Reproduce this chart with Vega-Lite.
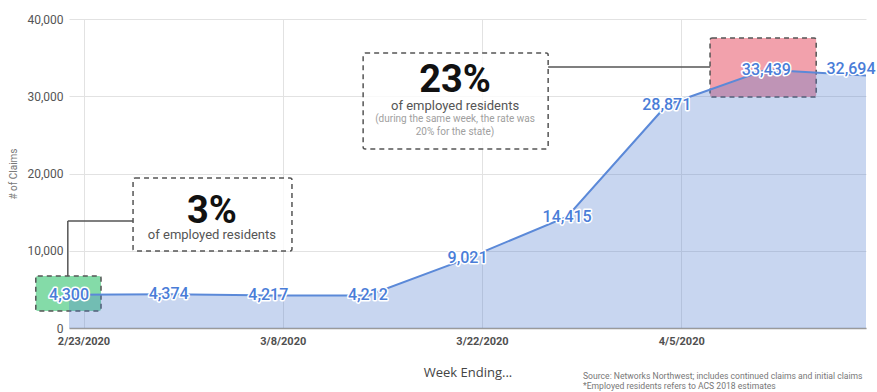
{
  "$schema": "https://vega.github.io/schema/vega-lite/v6.json",
  "width": 797,
  "height": 309,
  "autosize": {"type": "none"},
  "padding": {"left": 69, "top": 19, "right": 11, "bottom": 64},
  "background": "white",
  "title": {
    "text": ["Source: Networks Northwest; includes continued claims and initial claims", "*Employed residents refers to ACS 2018 estimates"],
    "orient": "bottom",
    "anchor": "end",
    "align": "left",
    "dx": -283,
    "frame": "group",
    "fontSize": 8.6,
    "fontWeight": "normal",
    "font": "Roboto",
    "color": "#777777",
    "lineHeight": 10,
    "offset": -7
  },
  "config": {
    "view": {"stroke": null},
    "axisX": {
      "tickOffset": 14.5,
      "ticks": false,
      "grid": true,
      "gridColor": "#e2e2e2",
      "domainColor": "#9a9a9a",
      "domainWidth": 1.5,
      "labelFont": "Roboto",
      "labelFontSize": 11,
      "labelFontWeight": "bold",
      "labelColor": "#505050",
      "labelPadding": 7,
      "labelFlush": false,
      "labelOverlap": false,
      "titleFont": "Open Sans",
      "titleFontSize": 13,
      "titleFontWeight": "normal",
      "titleColor": "#444444",
      "titlePadding": 20
    },
    "axisY": {
      "ticks": false,
      "domain": false,
      "grid": true,
      "gridColor": "#e2e2e2",
      "labelFont": "Roboto",
      "labelFontSize": 12,
      "labelColor": "#555555",
      "labelPadding": 6,
      "titleFont": "Roboto",
      "titleFontSize": 10,
      "titleFontWeight": "normal",
      "titleColor": "#777777",
      "titlePadding": 8
    }
  },
  "datasets": {
    "claims": [
      {"week": "2020-02-23T00:00:00", "claims": 4300},
      {"week": "2020-03-01T00:00:00", "claims": 4374},
      {"week": "2020-03-08T00:00:00", "claims": 4217},
      {"week": "2020-03-15T00:00:00", "claims": 4212},
      {"week": "2020-03-22T00:00:00", "claims": 9021},
      {"week": "2020-03-29T00:00:00", "claims": 14415},
      {"week": "2020-04-05T00:00:00", "claims": 28871},
      {"week": "2020-04-12T00:00:00", "claims": 33439},
      {"week": "2020-04-19T00:00:00", "claims": 32694}
    ],
    "boxes": [
      {"x": "2020-02-20T16:00:00", "x2": "2020-02-25T06:00:00", "y": 2200, "y2": 6730, "kind": "low"},
      {"x": "2020-04-08T01:00:00", "x2": "2020-04-15T12:00:00", "y": 29900, "y2": 37540, "kind": "high"},
      {"x": "2020-02-27T12:00:00", "x2": "2020-03-09T16:00:00", "y": 9970, "y2": 19420, "kind": "note"},
      {"x": "2020-03-14T16:00:00", "x2": "2020-03-27T16:00:00", "y": 23170, "y2": 35600, "kind": "note"}
    ],
    "connectors": [
      {"x": "2020-02-22T22:00:00", "x2": "2020-02-22T22:00:00", "y": 6730, "y2": 13850},
      {"x": "2020-02-22T22:00:00", "x2": "2020-02-27T12:00:00", "y": 13850, "y2": 13850},
      {"x": "2020-03-27T16:00:00", "x2": "2020-04-08T01:00:00", "y": 33790, "y2": 33790}
    ],
    "notes": [
      {"x": "2020-03-04T01:00:00", "y": 15020, "text": "3%", "role": "big"},
      {"x": "2020-03-04T01:00:00", "y": 12040, "text": "of employed residents", "role": "sub"},
      {"x": "2020-03-21T03:00:00", "y": 31970, "text": "23%", "role": "big"},
      {"x": "2020-03-21T03:00:00", "y": 28740, "text": "of employed residents", "role": "sub"},
      {"x": "2020-03-21T03:00:00", "y": 27060, "text": "(during the same week, the rate was", "role": "small"},
      {"x": "2020-03-21T03:00:00", "y": 25370, "text": "20% for the state)", "role": "small"}
    ]
  },
  "layer": [
    {
      "data": {"name": "boxes"},
      "transform": [{"filter": "datum.kind == 'note'"}],
      "mark": {"type": "rect", "fill": "white", "fillOpacity": 0.8, "stroke": "#555555", "strokeDash": [5, 4], "strokeWidth": 1.5, "cornerRadius": 2},
      "encoding": {
        "x": {"field": "x", "type": "temporal", "title": "Week Ending...", "scale": {"domain": [{"year": 2020, "month": 2, "date": 23}, {"year": 2020, "month": 4, "date": 19}]}, "axis": {"values": [{"year": 2020, "month": 2, "date": 23}, {"year": 2020, "month": 3, "date": 8}, {"year": 2020, "month": 3, "date": 22}, {"year": 2020, "month": 4, "date": 5}], "format": "%-m/%-d/%Y"}},
        "x2": {"field": "x2"},
        "y": {"field": "y", "type": "quantitative", "title": "# of Claims", "scale": {"domain": [0, 40000]}, "axis": {"values": [0, 10000, 20000, 30000, 40000], "format": ",.0f"}},
        "y2": {"field": "y2"}
      }
    },
    {
      "data": {"name": "boxes"},
      "transform": [{"filter": "datum.kind != 'note'"}],
      "mark": {"type": "rect", "stroke": "#555555", "strokeDash": [5, 4], "strokeWidth": 1.5, "cornerRadius": 2},
      "encoding": {
        "x": {"field": "x", "type": "temporal", "title": "Week Ending...", "scale": {"domain": [{"year": 2020, "month": 2, "date": 23}, {"year": 2020, "month": 4, "date": 19}]}, "axis": {"values": [{"year": 2020, "month": 2, "date": 23}, {"year": 2020, "month": 3, "date": 8}, {"year": 2020, "month": 3, "date": 22}, {"year": 2020, "month": 4, "date": 5}], "format": "%-m/%-d/%Y"}},
        "x2": {"field": "x2"},
        "y": {"field": "y", "type": "quantitative", "title": "# of Claims", "scale": {"domain": [0, 40000]}, "axis": {"values": [0, 10000, 20000, 30000, 40000], "format": ",.0f"}},
        "y2": {"field": "y2"},
        "fill": {"field": "kind", "type": "nominal", "scale": {"domain": ["low", "high"], "range": ["#84dba8", "#f2a1ac"]}, "legend": null}
      }
    },
    {
      "data": {"name": "claims"},
      "mark": {"type": "area", "color": "#4a78cc", "fillOpacity": 0.3},
      "encoding": {
        "x": {"field": "week", "type": "temporal", "title": "Week Ending...", "scale": {"domain": [{"year": 2020, "month": 2, "date": 23}, {"year": 2020, "month": 4, "date": 19}]}, "axis": {"values": [{"year": 2020, "month": 2, "date": 23}, {"year": 2020, "month": 3, "date": 8}, {"year": 2020, "month": 3, "date": 22}, {"year": 2020, "month": 4, "date": 5}], "format": "%-m/%-d/%Y"}},
        "y": {"field": "claims", "type": "quantitative", "title": "# of Claims", "scale": {"domain": [0, 40000]}, "axis": {"values": [0, 10000, 20000, 30000, 40000], "format": ",.0f"}}
      }
    },
    {
      "data": {"name": "claims"},
      "mark": {"type": "line", "color": "#5b89d8", "strokeWidth": 2},
      "encoding": {
        "x": {"field": "week", "type": "temporal", "title": "Week Ending...", "scale": {"domain": [{"year": 2020, "month": 2, "date": 23}, {"year": 2020, "month": 4, "date": 19}]}, "axis": {"values": [{"year": 2020, "month": 2, "date": 23}, {"year": 2020, "month": 3, "date": 8}, {"year": 2020, "month": 3, "date": 22}, {"year": 2020, "month": 4, "date": 5}], "format": "%-m/%-d/%Y"}},
        "y": {"field": "claims", "type": "quantitative", "title": "# of Claims", "scale": {"domain": [0, 40000]}, "axis": {"values": [0, 10000, 20000, 30000, 40000], "format": ",.0f"}}
      }
    },
    {
      "data": {"name": "connectors"},
      "mark": {"type": "rule", "color": "#555555", "strokeWidth": 1.5},
      "encoding": {
        "x": {"field": "x", "type": "temporal", "title": "Week Ending...", "scale": {"domain": [{"year": 2020, "month": 2, "date": 23}, {"year": 2020, "month": 4, "date": 19}]}, "axis": {"values": [{"year": 2020, "month": 2, "date": 23}, {"year": 2020, "month": 3, "date": 8}, {"year": 2020, "month": 3, "date": 22}, {"year": 2020, "month": 4, "date": 5}], "format": "%-m/%-d/%Y"}},
        "x2": {"field": "x2"},
        "y": {"field": "y", "type": "quantitative", "title": "# of Claims", "scale": {"domain": [0, 40000]}, "axis": {"values": [0, 10000, 20000, 30000, 40000], "format": ",.0f"}},
        "y2": {"field": "y2"}
      }
    },
    {
      "data": {"name": "notes"},
      "transform": [{"filter": "datum.role == 'big'"}],
      "mark": {"type": "text", "font": "Roboto", "fontSize": 38, "fontWeight": "bold", "color": "#111111", "baseline": "middle", "align": "center"},
      "encoding": {
        "x": {"field": "x", "type": "temporal", "title": "Week Ending...", "scale": {"domain": [{"year": 2020, "month": 2, "date": 23}, {"year": 2020, "month": 4, "date": 19}]}, "axis": {"values": [{"year": 2020, "month": 2, "date": 23}, {"year": 2020, "month": 3, "date": 8}, {"year": 2020, "month": 3, "date": 22}, {"year": 2020, "month": 4, "date": 5}], "format": "%-m/%-d/%Y"}},
        "y": {"field": "y", "type": "quantitative", "title": "# of Claims", "scale": {"domain": [0, 40000]}, "axis": {"values": [0, 10000, 20000, 30000, 40000], "format": ",.0f"}},
        "text": {"field": "text"}
      }
    },
    {
      "data": {"name": "notes"},
      "transform": [{"filter": "datum.role == 'sub'"}],
      "mark": {"type": "text", "font": "Roboto", "fontSize": 13, "color": "#555555", "baseline": "middle", "align": "center"},
      "encoding": {
        "x": {"field": "x", "type": "temporal", "title": "Week Ending...", "scale": {"domain": [{"year": 2020, "month": 2, "date": 23}, {"year": 2020, "month": 4, "date": 19}]}, "axis": {"values": [{"year": 2020, "month": 2, "date": 23}, {"year": 2020, "month": 3, "date": 8}, {"year": 2020, "month": 3, "date": 22}, {"year": 2020, "month": 4, "date": 5}], "format": "%-m/%-d/%Y"}},
        "y": {"field": "y", "type": "quantitative", "title": "# of Claims", "scale": {"domain": [0, 40000]}, "axis": {"values": [0, 10000, 20000, 30000, 40000], "format": ",.0f"}},
        "text": {"field": "text"}
      }
    },
    {
      "data": {"name": "notes"},
      "transform": [{"filter": "datum.role == 'small'"}],
      "mark": {"type": "text", "font": "Roboto", "fontSize": 10, "color": "#a0a0a0", "baseline": "middle", "align": "center"},
      "encoding": {
        "x": {"field": "x", "type": "temporal", "title": "Week Ending...", "scale": {"domain": [{"year": 2020, "month": 2, "date": 23}, {"year": 2020, "month": 4, "date": 19}]}, "axis": {"values": [{"year": 2020, "month": 2, "date": 23}, {"year": 2020, "month": 3, "date": 8}, {"year": 2020, "month": 3, "date": 22}, {"year": 2020, "month": 4, "date": 5}], "format": "%-m/%-d/%Y"}},
        "y": {"field": "y", "type": "quantitative", "title": "# of Claims", "scale": {"domain": [0, 40000]}, "axis": {"values": [0, 10000, 20000, 30000, 40000], "format": ",.0f"}},
        "text": {"field": "text"}
      }
    },
    {
      "data": {"name": "claims"},
      "transform": [{"filter": "datum.claims != 32694"}],
      "mark": {"type": "text", "font": "Roboto", "fontSize": 16, "fontWeight": 500, "fill": "white", "stroke": "white", "strokeWidth": 3, "strokeJoin": "round", "baseline": "middle", "align": "center"},
      "encoding": {
        "x": {"field": "week", "type": "temporal", "title": "Week Ending...", "scale": {"domain": [{"year": 2020, "month": 2, "date": 23}, {"year": 2020, "month": 4, "date": 19}]}, "axis": {"values": [{"year": 2020, "month": 2, "date": 23}, {"year": 2020, "month": 3, "date": 8}, {"year": 2020, "month": 3, "date": 22}, {"year": 2020, "month": 4, "date": 5}], "format": "%-m/%-d/%Y"}},
        "y": {"field": "claims", "type": "quantitative", "title": "# of Claims", "scale": {"domain": [0, 40000]}, "axis": {"values": [0, 10000, 20000, 30000, 40000], "format": ",.0f"}},
        "text": {"field": "claims", "type": "quantitative", "format": ","}
      }
    },
    {
      "data": {"name": "claims"},
      "transform": [{"filter": "datum.claims != 32694"}],
      "mark": {"type": "text", "font": "Roboto", "fontSize": 16, "fontWeight": 500, "color": "#4a7dd8", "baseline": "middle", "align": "center"},
      "encoding": {
        "x": {"field": "week", "type": "temporal", "title": "Week Ending...", "scale": {"domain": [{"year": 2020, "month": 2, "date": 23}, {"year": 2020, "month": 4, "date": 19}]}, "axis": {"values": [{"year": 2020, "month": 2, "date": 23}, {"year": 2020, "month": 3, "date": 8}, {"year": 2020, "month": 3, "date": 22}, {"year": 2020, "month": 4, "date": 5}], "format": "%-m/%-d/%Y"}},
        "y": {"field": "claims", "type": "quantitative", "title": "# of Claims", "scale": {"domain": [0, 40000]}, "axis": {"values": [0, 10000, 20000, 30000, 40000], "format": ",.0f"}},
        "text": {"field": "claims", "type": "quantitative", "format": ","}
      }
    },
    {
      "data": {"name": "claims"},
      "transform": [{"filter": "datum.claims == 32694"}],
      "mark": {"type": "text", "font": "Roboto", "fontSize": 16, "fontWeight": 500, "fill": "white", "stroke": "white", "strokeWidth": 3, "strokeJoin": "round", "baseline": "middle", "align": "center", "dx": -15, "dy": -6},
      "encoding": {
        "x": {"field": "week", "type": "temporal", "title": "Week Ending...", "scale": {"domain": [{"year": 2020, "month": 2, "date": 23}, {"year": 2020, "month": 4, "date": 19}]}, "axis": {"values": [{"year": 2020, "month": 2, "date": 23}, {"year": 2020, "month": 3, "date": 8}, {"year": 2020, "month": 3, "date": 22}, {"year": 2020, "month": 4, "date": 5}], "format": "%-m/%-d/%Y"}},
        "y": {"field": "claims", "type": "quantitative", "title": "# of Claims", "scale": {"domain": [0, 40000]}, "axis": {"values": [0, 10000, 20000, 30000, 40000], "format": ",.0f"}},
        "text": {"field": "claims", "type": "quantitative", "format": ","}
      }
    },
    {
      "data": {"name": "claims"},
      "transform": [{"filter": "datum.claims == 32694"}],
      "mark": {"type": "text", "font": "Roboto", "fontSize": 16, "fontWeight": 500, "color": "#4a7dd8", "baseline": "middle", "align": "center", "dx": -15, "dy": -6},
      "encoding": {
        "x": {"field": "week", "type": "temporal", "title": "Week Ending...", "scale": {"domain": [{"year": 2020, "month": 2, "date": 23}, {"year": 2020, "month": 4, "date": 19}]}, "axis": {"values": [{"year": 2020, "month": 2, "date": 23}, {"year": 2020, "month": 3, "date": 8}, {"year": 2020, "month": 3, "date": 22}, {"year": 2020, "month": 4, "date": 5}], "format": "%-m/%-d/%Y"}},
        "y": {"field": "claims", "type": "quantitative", "title": "# of Claims", "scale": {"domain": [0, 40000]}, "axis": {"values": [0, 10000, 20000, 30000, 40000], "format": ",.0f"}},
        "text": {"field": "claims", "type": "quantitative", "format": ","}
      }
    }
  ]
}
